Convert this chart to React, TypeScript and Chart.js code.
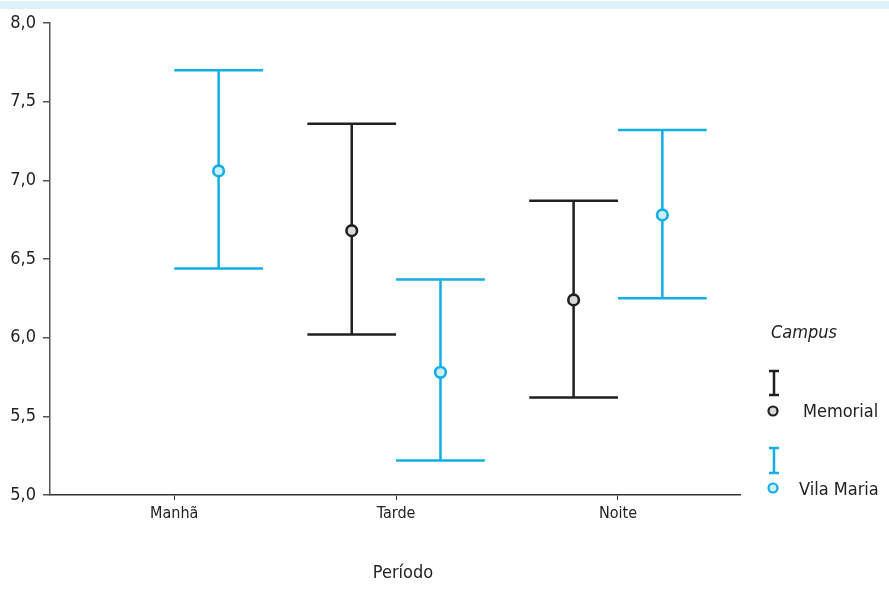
import React, { useEffect, useRef } from "react";
import { Chart, registerables } from "chart.js";

Chart.register(...registerables);

const categories = ["Manhã", "Tarde", "Noite"];
const yTicks = [5.0, 5.5, 6.0, 6.5, 7.0, 7.5, 8.0];

// Memorial campus (no data for Manhã)
const memorialMean: (number | null)[] = [null, 6.68, 6.24];
const memorialLow: (number | null)[] = [null, 6.02, 5.62];
const memorialHigh: (number | null)[] = [null, 7.36, 6.87];

// Vila Maria campus
const vilaMean: (number | null)[] = [7.06, 5.78, 6.78];
const vilaLow: (number | null)[] = [6.44, 5.22, 6.25];
const vilaHigh: (number | null)[] = [7.7, 6.37, 7.32];

const seriesNames = ["Memorial", "Vila Maria"];
const legendTitle = "Campus";
const xTitle = "Período";

const BLACK = "#231f20";
const BLUE = "#12aee6";
const FONT = "'Liberation Sans Narrow', 'DejaVu Sans Condensed', 'Liberation Sans', sans-serif";

const OFFSET = 0.2;
const CAP = 0.2;

const series = [
  { name: seriesNames[0], mean: memorialMean, low: memorialLow, high: memorialHigh, off: -OFFSET, color: BLACK, fill: "#d9d9d9" },
  { name: seriesNames[1], mean: vilaMean, low: vilaLow, high: vilaHigh, off: OFFSET, color: BLUE, fill: "#cdeefb" },
];

export default function App() {
  const ref = useRef<HTMLCanvasElement | null>(null);
  useEffect(() => {
    if (!ref.current) return;
    const errorBars = {
      id: "errorBars",
      beforeDraw(chart: any) {
        const c = chart.ctx;
        c.save();
        c.fillStyle = "#dcf1fa";
        c.fillRect(0, 1, chart.width, 8);
        c.restore();
      },
      beforeDatasetsDraw(chart: any) {
        const c = chart.ctx;
        const xs = chart.scales.x;
        const ys = chart.scales.y;
        c.save();
        c.lineWidth = 2.5;
        series.forEach((s) => {
          c.strokeStyle = s.color;
          categories.forEach((_, i) => {
            const lo = s.low[i];
            const hi = s.high[i];
            if (lo == null || hi == null) return;
            const xc = xs.getPixelForValue(i + 1 + s.off);
            const xl = xs.getPixelForValue(i + 1 + s.off - CAP);
            const xr = xs.getPixelForValue(i + 1 + s.off + CAP);
            const yl = ys.getPixelForValue(lo);
            const yh = ys.getPixelForValue(hi);
            c.beginPath();
            c.moveTo(xc, yl);
            c.lineTo(xc, yh);
            c.moveTo(xl, yh);
            c.lineTo(xr, yh);
            c.moveTo(xl, yl);
            c.lineTo(xr, yl);
            c.stroke();
          });
        });
        c.restore();
      },
      afterDraw(chart: any) {
        const c = chart.ctx;
        const lx = chart.chartArea.right + 34;
        c.save();
        c.fillStyle = "#222";
        c.textBaseline = "middle";
        c.textAlign = "center";
        c.font = `18px ${FONT}`;
        c.fillText(xTitle, 403, 573);
        c.textAlign = "left";
        c.font = `italic 18px ${FONT}`;
        c.fillText(legendTitle, lx - 3, 333);
        const rows = [
          { top: 371, bottom: 395, cy: 411, ty: 412, tx: lx + 29 },
          { top: 448, bottom: 473, cy: 488, ty: 490, tx: lx + 25 },
        ];
        series.forEach((s, k) => {
          const r = rows[k];
          c.strokeStyle = s.color;
          c.lineWidth = 2.5;
          c.beginPath();
          c.moveTo(lx, r.top);
          c.lineTo(lx, r.bottom);
          c.moveTo(lx - 5, r.top);
          c.lineTo(lx + 5, r.top);
          c.moveTo(lx - 5, r.bottom);
          c.lineTo(lx + 5, r.bottom);
          c.stroke();
          c.beginPath();
          c.arc(lx - 1, r.cy, 4.5, 0, Math.PI * 2);
          c.fillStyle = s.fill;
          c.fill();
          c.lineWidth = 2.2;
          c.stroke();
          c.fillStyle = "#222";
          c.font = `18px ${FONT}`;
          c.fillText(s.name, r.tx, r.ty);
        });
        c.restore();
      },
    };

    const datasets = series.map((s) => ({
      label: s.name,
      data: categories
        .map((_, i) => (s.mean[i] == null ? null : { x: i + 1 + s.off, y: s.mean[i] as number }))
        .filter((p) => p !== null),
      pointRadius: 5.3,
      pointBorderWidth: 2.6,
      pointBorderColor: s.color,
      pointBackgroundColor: s.fill,
      showLine: false,
    }));

    const chart = new Chart(ref.current, {
      type: "scatter",
      data: { datasets: datasets as any },
      options: {
        animation: false,
        responsive: false,
        layout: { padding: { left: 0, top: 23, right: 149, bottom: 0 } },
        plugins: { legend: { display: false }, tooltip: { enabled: false } },
        scales: {
          x: {
            type: "linear",
            min: 0.44,
            max: 3.55,
            afterBuildTicks: (scale: any) => {
              scale.ticks = categories.map((_, i) => ({ value: i + 1 }));
            },
            afterFit: (scale: any) => {
              scale.height = 99;
            },
            ticks: {
              autoSkip: false,
              maxRotation: 0,
              padding: 4,
              color: "#222",
              font: { family: FONT, size: 16 },
              callback: (v: any) => categories[Math.round(Number(v)) - 1] ?? "",
            },
            grid: { display: true, drawOnChartArea: false, drawTicks: true, tickLength: 5, color: "#333", lineWidth: 1 },
            border: { display: true, color: "#333", width: 1.5 },
            title: { display: false },
          },
          y: {
            min: 5,
            max: 8,
            afterBuildTicks: (scale: any) => {
              scale.ticks = yTicks.map((v) => ({ value: v }));
            },
            afterFit: (scale: any) => {
              scale.width = 50;
            },
            ticks: {
              padding: 7,
              color: "#222",
              font: { family: FONT, size: 18 },
              callback: (v: any) => Number(v).toFixed(1).replace(".", ","),
            },
            grid: { display: true, drawOnChartArea: false, drawTicks: true, tickLength: 7, color: "#555", lineWidth: 1.5 },
            border: { display: true, color: "#555", width: 1.5 },
          },
        },
      },
      plugins: [errorBars],
    });
    return () => chart.destroy();
  }, []);
  return (
    <div style={{ position: "fixed", left: 0, top: 0, width: 889, height: 594, background: "#fff" }}>
      <canvas ref={ref} width={889} height={594} style={{ width: 889, height: 594, display: "block" }} />
    </div>
  );
}
